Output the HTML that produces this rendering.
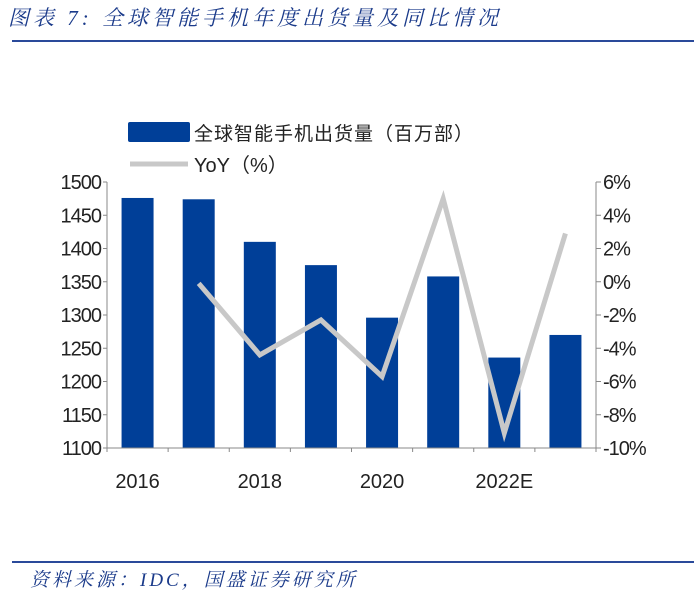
<!DOCTYPE html>
<html><head><meta charset="utf-8"><style>
body{margin:0;background:#fff;width:699px;height:603px;overflow:hidden;font-family:"Liberation Sans","Noto Sans CJK SC",sans-serif}
#title{position:absolute;left:8px;top:2px;font-size:21px;letter-spacing:4px;font-style:italic;color:#1a3a8a;font-family:"Liberation Serif","Noto Serif CJK SC",serif;white-space:nowrap}
#src{position:absolute;left:30px;top:565px;font-size:19px;letter-spacing:3px;font-style:italic;color:#1a3a8a;font-family:"Liberation Serif","Noto Serif CJK SC",serif;white-space:nowrap}
.rule{position:absolute;left:12px;width:682px;height:2px;background:#2a4a9a}
</style></head><body>
<div id="title">图表 7:  全球智能手机年度出货量及同比情况</div>
<div class="rule" style="top:40px"></div>
<div class="rule" style="top:561px"></div>
<div id="src">资料来源：IDC，国盛证券研究所</div>
<svg id="c" width="699" height="603" style="position:absolute;left:0;top:0"></svg>
<script>
const categories=["2016","2017","2018","2019","2020","2021","2022E","2023E"];
const xLabels=["2016","","2018","","2020","","2022E",""];
const shipments=[1476,1474,1410,1375,1296,1358,1236,1270];
const yoy=[null,-0.1,-4.4,-2.3,-5.7,5.0,-9.1,2.9];
const leftTicks=[1100,1150,1200,1250,1300,1350,1400,1450,1500];
const rightTicks=[-10,-8,-6,-4,-2,0,2,4,6];
const svg=document.getElementById('c');const NS='http://www.w3.org/2000/svg';
const L=107,R=596,T=182,B=448;
const step=(R-L)/categories.length;
const xc=i=>L+step*(i+0.5);
const yL=v=>B-(v-1100)/400*(B-T);
const yR=v=>B-(v+10)/16*(B-T);
function mk(t,a,p){const e=document.createElementNS(NS,t);for(const k in a)e.setAttribute(k,a[k]);(p||svg).appendChild(e);return e;}
shipments.forEach((v,i)=>{const e=mk('rect',{x:xc(i)-16,y:yL(v),width:32,height:B-yL(v),fill:'#003f98'});

});
const ax=mk('g',{stroke:'#888','stroke-width':1});


mk('line',{x1:L,y1:T,x2:L,y2:B},ax);mk('line',{x1:R,y1:T,x2:R,y2:B},ax);mk('line',{x1:L,y1:B,x2:R,y2:B},ax);
leftTicks.forEach(v=>{mk('line',{x1:L-4,y1:yL(v),x2:L,y2:yL(v)},ax);
const t=mk('text',{x:L-6,y:yL(v)+7,'text-anchor':'end','font-size':20,fill:'#222',stroke:'none','letter-spacing':'-1'});t.textContent=v;

});
rightTicks.forEach(v=>{mk('line',{x1:R,y1:yR(v),x2:R+5,y2:yR(v)},ax);
const t=mk('text',{x:R+7,y:yR(v)+7,'font-size':20,fill:'#222',stroke:'none','letter-spacing':'-1'});t.textContent=v+'%';

});
for(let i=0;i<=categories.length;i++){mk('line',{x1:L+step*i,y1:B,x2:L+step*i,y2:B+4},ax);}
xLabels.forEach((s,i)=>{if(!s)return;const t=mk('text',{x:xc(i),y:B+40,'text-anchor':'middle','font-size':20,fill:'#222'});t.textContent=s;

});
let d='';yoy.forEach((v,i)=>{if(v===null)return;d+=(d?'L':'M')+xc(i)+','+yR(v);});
const ln=mk('path',{d:d,fill:'none',stroke:'#c8c8c8','stroke-width':5,'stroke-linejoin':'miter'});


const lg=mk('g',{});


mk('rect',{x:128,y:122,width:62,height:20,fill:'#003f98',rx:2},lg);
let t=mk('text',{x:194,y:140,'font-size':19,fill:'#222','letter-spacing':'1'},lg);t.textContent='全球智能手机出货量（百万部）';
mk('line',{x1:130,y1:164,x2:188,y2:164,stroke:'#c8c8c8','stroke-width':5},lg);
t=mk('text',{x:194,y:172,'font-size':20,fill:'#222'},lg);t.textContent='YoY（%）';
</script>
</body></html>
